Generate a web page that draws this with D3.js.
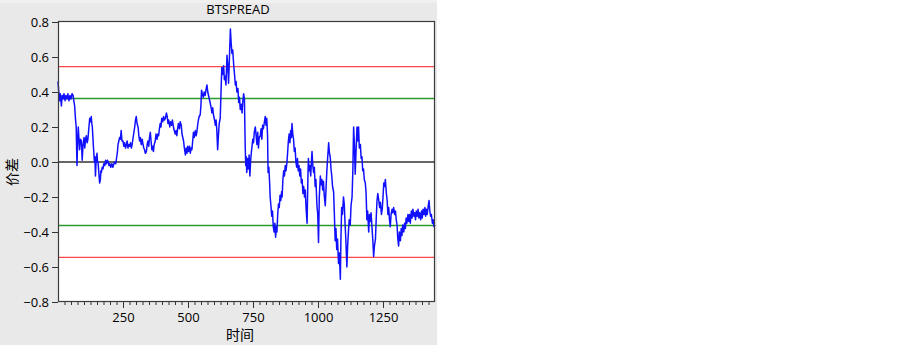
<!DOCTYPE html>
<html lang="zh">
<head>
<meta charset="UTF-8">
<title>BTSPREAD</title>
<script src="https://d3js.org/d3.v7.min.js"></script>
<style>
  body { margin: 0; background: #fff; }
  text { font-family: "Open Sans", "Noto Sans", sans-serif; fill: #000; }
  .cjk { font-family: "Noto Sans CJK SC", sans-serif; }
</style>
</head>
<body>
<div id="chart"></div>
<script>
// time index of each traced point and the spread value
const t = [0,3,6,9,13,16,19,23,27,30,34,38,42,46,50,54,58,61,64,67,70,73,76,78,81,83,86,90,93,96,
  100,103,106,109,112,115,119,122,125,128,130,132,135,137,140,142,144,147,150,152,154,157,160,163,165,167,170,173,176,180,
  183,186,190,193,196,199,203,207,211,215,218,222,224,228,231,234,237,240,243,246,250,253,256,260,263,266,269,272,276,279,
  282,285,288,292,295,298,301,304,308,311,314,317,320,324,327,330,333,336,340,343,346,349,352,355,358,361,364,367,370,374,
  377,381,384,387,390,393,396,399,403,406,409,413,417,420,423,426,430,433,437,440,444,447,451,454,457,460,463,467,470,474,
  477,480,483,486,490,493,496,499,502,506,509,512,515,518,521,524,528,531,534,537,540,543,547,550,552,555,559,562,566,569,
  573,576,579,582,585,589,592,595,598,602,605,608,611,614,617,620,624,627,630,633,637,640,643,646,650,653,656,659,663,666,
  669,672,676,679,682,685,688,692,695,698,701,705,708,711,714,717,720,722,724,726,729,732,735,738,741,744,747,749,752,755,
  759,762,765,768,771,774,778,781,784,787,790,794,797,800,803,806,808,811,814,816,819,822,825,828,831,834,837,840,842,845,
  848,851,854,857,860,862,865,868,871,874,877,880,883,886,889,892,895,898,900,903,906,909,912,915,918,921,924,927,930,933,
  936,939,942,945,948,951,954,958,961,963,966,969,972,975,977,980,983,986,989,992,996,999,1002,1005,1009,1012,1015,1018,1021,1024,
  1028,1031,1034,1037,1041,1044,1047,1050,1053,1056,1060,1063,1066,1069,1072,1075,1079,1082,1086,1088,1091,1094,1098,1101,1104,1107,1111,1114,1117,1120,
  1124,1127,1131,1134,1137,1140,1143,1146,1150,1153,1156,1159,1163,1166,1169,1172,1175,1178,1182,1185,1188,1191,1195,1198,1201,1204,1208,1211,1214,1217,
  1221,1224,1227,1230,1233,1237,1240,1244,1247,1250,1253,1256,1259,1263,1266,1269,1272,1275,1278,1281,1285,1288,1291,1295,1298,1301,1304,1307,1310,1313,
  1317,1320,1323,1326,1330,1333,1336,1339,1342,1346,1349,1352,1355,1359,1362,1365,1369,1372,1375,1378,1382,1385,1388,1391,1395,1398,1401,1404,1408,1411,
  1414,1417,1420,1424,1427,1430,1433,1436,1440,1443,1446,1450];

const spread = [0.46,0.40,0.35,0.39,0.32,0.38,0.36,0.39,0.35,0.38,0.36,0.39,0.35,0.38,0.36,0.39,0.38,0.35,0.32,0.25,0.20,-0.02,0.14,0.20,0.12,0.07,0.13,0.12,0.01,0.09,
  0.14,0.08,0.13,0.15,0.11,0.13,0.20,0.25,0.23,0.26,0.22,0.20,0.12,0.07,0.00,0.03,-0.08,0.02,0.05,0.00,0.00,-0.06,-0.12,-0.10,-0.05,-0.06,-0.03,-0.04,-0.01,-0.02,
  0.01,-0.01,0.01,0.00,-0.02,-0.01,-0.03,-0.01,-0.03,-0.01,0.00,-0.01,0.01,0.05,0.10,0.12,0.14,0.13,0.18,0.12,0.12,0.09,0.11,0.08,0.10,0.12,0.08,0.10,0.09,0.11,
  0.08,0.10,0.13,0.17,0.20,0.24,0.26,0.22,0.20,0.15,0.12,0.14,0.10,0.13,0.10,0.08,0.07,0.05,0.06,0.10,0.12,0.09,0.14,0.17,0.12,0.07,0.09,0.06,0.10,0.12,
  0.16,0.13,0.16,0.15,0.19,0.22,0.20,0.25,0.23,0.26,0.24,0.25,0.28,0.26,0.22,0.24,0.20,0.23,0.21,0.24,0.20,0.18,0.16,0.18,0.15,0.19,0.22,0.19,0.23,0.21,
  0.16,0.14,0.12,0.08,0.04,0.08,0.05,0.09,0.06,0.09,0.05,0.08,0.07,0.12,0.17,0.14,0.18,0.15,0.17,0.21,0.24,0.26,0.27,0.33,0.41,0.39,0.37,0.40,0.38,0.41,
  0.44,0.40,0.38,0.36,0.34,0.31,0.28,0.31,0.27,0.24,0.21,0.24,0.18,0.07,0.15,0.22,0.25,0.40,0.54,0.50,0.55,0.47,0.49,0.44,0.61,0.55,0.45,0.58,0.76,0.68,
  0.62,0.64,0.55,0.50,0.44,0.46,0.40,0.42,0.34,0.37,0.30,0.33,0.28,0.35,0.39,0.36,0.09,-0.02,0.03,-0.06,0.02,-0.04,0.04,-0.08,0.01,0.06,0.10,0.13,0.11,0.17,
  0.20,0.15,0.10,0.17,0.08,0.14,0.15,0.19,0.13,0.21,0.19,0.23,0.26,0.21,0.25,0.15,-0.06,-0.03,-0.12,-0.20,-0.25,-0.31,-0.28,-0.37,-0.40,-0.35,-0.43,-0.37,-0.40,-0.30,
  -0.24,-0.26,-0.19,-0.22,-0.17,-0.20,-0.10,-0.05,-0.08,-0.02,-0.05,-0.01,0.05,0.12,0.16,0.11,0.18,0.14,0.22,0.16,0.13,0.06,0.08,0.00,-0.03,0.02,-0.05,-0.02,-0.08,-0.04,
  -0.12,-0.10,-0.18,-0.14,-0.20,-0.16,-0.26,-0.35,-0.10,0.02,-0.05,-0.02,-0.08,0.01,0.06,-0.02,-0.06,-0.03,-0.14,-0.10,-0.25,-0.30,-0.46,-0.20,-0.08,-0.13,-0.10,-0.16,-0.11,-0.19,
  -0.25,-0.15,-0.05,0.02,0.11,0.05,0.03,-0.04,-0.08,-0.14,-0.17,-0.30,-0.45,-0.38,-0.50,-0.44,-0.58,-0.52,-0.67,-0.45,-0.26,-0.30,-0.20,-0.24,-0.35,-0.44,-0.60,-0.48,-0.40,-0.33,
  -0.36,-0.25,-0.20,-0.05,0.20,0.10,-0.07,0.05,0.20,0.12,0.20,0.08,0.10,0.02,0.03,-0.05,-0.04,-0.10,-0.12,-0.18,-0.33,-0.28,-0.40,-0.30,-0.34,-0.29,-0.38,-0.45,-0.54,-0.48,
  -0.44,-0.32,-0.22,-0.18,-0.21,-0.26,-0.23,-0.30,-0.27,-0.20,-0.12,-0.14,-0.10,-0.18,-0.22,-0.30,-0.26,-0.33,-0.37,-0.30,-0.27,-0.29,-0.26,-0.30,-0.28,-0.33,-0.36,-0.44,-0.48,-0.40,
  -0.45,-0.38,-0.42,-0.36,-0.40,-0.35,-0.38,-0.32,-0.35,-0.30,-0.34,-0.30,-0.35,-0.28,-0.32,-0.27,-0.31,-0.29,-0.33,-0.28,-0.31,-0.27,-0.32,-0.29,-0.33,-0.28,-0.32,-0.27,-0.30,-0.26,
  -0.31,-0.27,-0.30,-0.25,-0.22,-0.28,-0.31,-0.30,-0.35,-0.33,-0.37,-0.36];

const yTicks = [-0.8, -0.6, -0.4, -0.2, 0.0, 0.2, 0.4, 0.6, 0.8];
const xMajor = [250, 500, 750, 1000, 1250];
const xMinor = d3.range(25, 1450, 25);
// reference levels drawn across the plot
const bandLevels = [0.545, 0.363, 0, -0.363, -0.545];
const bandColors = ["#ff4a4a", "#2e9a2e", "#333333", "#2e9a2e", "#ff4a4a"];

const W = 903, H = 348;
const plot = {left: 58, right: 435, top: 21, bottom: 302};

const svg = d3.select("#chart").append("svg")
    .attr("width", W).attr("height", H);

// gray panel behind the chart
svg.append("rect").attr("x", 0).attr("y", 0).attr("width", 437).attr("height", 345)
    .attr("fill", "#e9e9e9");
svg.append("rect").attr("x", 0).attr("y", 0).attr("width", 437).attr("height", 3)
    .attr("fill", "#f0f0f0");

const x = d3.scaleLinear().domain([0, 1450]).range([plot.left, plot.right]);
const y = d3.scaleLinear().domain([-0.8, 0.8]).range([plot.bottom, plot.top + 1]);

svg.append("rect")
    .attr("x", plot.left).attr("y", plot.top)
    .attr("width", plot.right - plot.left).attr("height", plot.bottom - plot.top)
    .attr("fill", "#fff");

// horizontal levels
svg.selectAll("line.level")
    .data(bandLevels)
    .enter().append("line")
    .attr("class", "level")
    .attr("x1", plot.left).attr("x2", plot.right)
    .attr("y1", d => y(d)).attr("y2", d => y(d))
    .attr("stroke", (d, i) => bandColors[i])
    .attr("stroke-width", 1.4);

// the spread line
const pts = t.map((d, i) => [d, spread[i]]);
svg.append("path")
    .datum(pts)
    .attr("fill", "none")
    .attr("stroke", "#1010ff")
    .attr("stroke-width", 1.5)
    .attr("stroke-linejoin", "round")
    .attr("d", d3.line().x(d => x(d[0])).y(d => y(d[1])));

// frame
svg.append("rect")
    .attr("x", plot.left + 0.5).attr("y", plot.top + 0.5)
    .attr("width", plot.right - plot.left - 1).attr("height", plot.bottom - plot.top - 1)
    .attr("fill", "none").attr("stroke", "#3a3a3a").attr("stroke-width", 1.2);

// y axis
const yAxis = svg.append("g")
    .attr("transform", `translate(${plot.left},0)`)
    .call(d3.axisLeft(y).tickValues(yTicks).tickFormat(d3.format(".1f")).tickSize(6).tickPadding(3));
yAxis.select(".domain").remove();
yAxis.selectAll("text").style("font-size", "13px").attr("fill", "#000");
yAxis.selectAll("line").attr("stroke", "#333");

// x axis, minor ticks then major ticks with labels
const xMin = svg.append("g")
    .attr("transform", `translate(0,${plot.bottom})`)
    .call(d3.axisBottom(x).tickValues(xMinor).tickSize(3).tickFormat(""));
xMin.select(".domain").remove();
xMin.selectAll("line").attr("stroke", "#333");

const xAxis = svg.append("g")
    .attr("transform", `translate(0,${plot.bottom})`)
    .call(d3.axisBottom(x).tickValues(xMajor).tickFormat(d3.format("d")).tickSize(6).tickPadding(5));
xAxis.select(".domain").remove();
xAxis.selectAll("text").style("font-size", "13px").attr("fill", "#000");
xAxis.selectAll("line").attr("stroke", "#333");

// titles
svg.append("text")
    .attr("x", 238).attr("y", 14)
    .attr("text-anchor", "middle")
    .style("font-size", "13px")
    .text("BTSPREAD");

svg.append("text")
    .attr("class", "cjk")
    .attr("x", 240).attr("y", 340)
    .attr("text-anchor", "middle")
    .style("font-size", "14px")
    .attr("fill", "#222")
    .text("时间");

svg.append("text")
    .attr("class", "cjk")
    .attr("transform", "translate(17,172) rotate(-90)")
    .attr("text-anchor", "middle")
    .style("font-size", "14px")
    .attr("fill", "#222")
    .text("价差");
</script>
</body>
</html>
